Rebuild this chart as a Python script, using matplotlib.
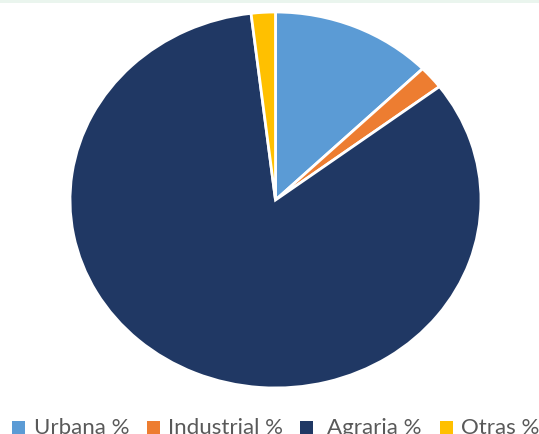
import matplotlib
matplotlib.use("Agg")
import matplotlib.pyplot as plt
from matplotlib.patches import Rectangle

categories = ["Urbana %", "Industrial %", "Agraria %", "Otras %"]
values = [12.7, 2.0, 83.4, 1.9]
colors = ["#5B9BD5", "#ED7D31", "#203864", "#FFC000"]

W, H = 539, 434
fig = plt.figure(figsize=(W / 100, H / 100), dpi=100)
fig.patch.set_facecolor("white")

# faint strip at very top
fig.patches.append(Rectangle((0, 1 - 3 / H), 1, 3 / H, transform=fig.transFigure,
                             facecolor="#EAF5EE", edgecolor="none"))

left, right, top, bottom = 70, 481, 12, 388
ax = fig.add_axes([left / W, (H - bottom) / H, (right - left) / W, (bottom - top) / H])
ax.pie(values, colors=colors, startangle=90, counterclock=False,
       wedgeprops=dict(edgecolor="white", linewidth=2))
ax.set_aspect("auto")
ax.set_xlim(-1, 1)
ax.set_ylim(-1, 1)
ax.axis("off")

marker_x = [12, 147, 300, 440]
text_x = [34, 168, 327, 461]
for cat, col, mx, tx in zip(categories, colors, marker_x, text_x):
    fig.patches.append(Rectangle((mx / W, 0.5 / H), 13 / W, 12.5 / H, transform=fig.transFigure,
                                 facecolor=col, edgecolor="none"))
    fig.text(tx / W, 0.3 / H, cat, fontsize=16, family=["Lato", "DejaVu Sans"],
             color="#595959", ha="left", va="baseline")

fig.savefig("out.png", dpi=100)
